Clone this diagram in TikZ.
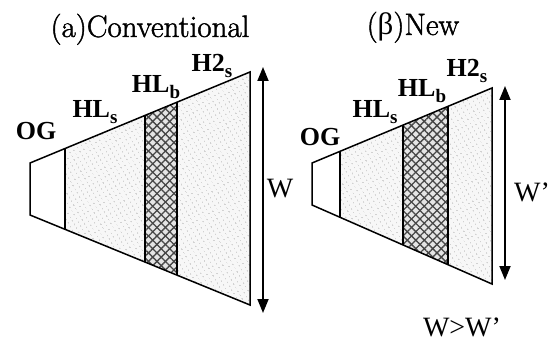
\documentclass[tikz,border=0pt]{standalone}
\usepackage{fontspec}
\usepackage{tikz}
\usetikzlibrary{arrows.meta, patterns.meta, positioning}
\newfontfamily\lblfont{Liberation Serif}
\newfontfamily\headfont{Latin Modern Roman}[FakeBold=1.4]
\newcommand{\lsub}[1]{\raisebox{-0.2em}{\fontsize{19}{20}\selectfont #1}}

\begin{document}
\begin{tikzpicture}[x=1pt, y=-1pt,
  heading/.style={font=\headfont\fontsize{31}{36}\selectfont, anchor=base, inner sep=0pt},
  layer/.style={font=\lblfont\bfseries\fontsize{26}{30}\selectfont, anchor=base, inner sep=0pt},
  widthlabel/.style={font=\lblfont\fontsize{28}{32}\selectfont, anchor=base, inner sep=0pt},
  outline/.style={line width=1.5pt, line join=miter},
  wall/.style={line width=2.3pt},
  stipple/.style={fill=gray!6, postaction={pattern color=gray!65,
                  pattern={Dots[distance=4pt, radius=0.65pt, angle=30]}}},
  mesh/.style={fill=gray!20,
               postaction={pattern color=gray!55!black, pattern={Lines[angle=45, distance=6pt, line width=1.3pt]}},
               postaction={pattern color=gray!55!black, pattern={Lines[angle=-45, distance=6pt, line width=1.3pt]}}},
  span/.style={line width=1.8pt, {Triangle[length=14pt, width=11pt]}-{Triangle[length=14pt, width=11pt]}},
]
\useasboundingbox (0,0) rectangle (552,342);

% ── (a) Conventional ──
\coordinate (aTL) at (30,163);   \coordinate (aBL) at (30,215);
\coordinate (aTR) at (250,72);   \coordinate (aBR) at (250,305);
\coordinate (a1t) at (65,148.5); \coordinate (a1b) at (65,229.3);
\coordinate (a2t) at (145,115.4);\coordinate (a2b) at (145,262);
\coordinate (a3t) at (177,102.2);\coordinate (a3b) at (177,275.1);

\fill[stipple] (a1t) -- (a2t) -- (a2b) -- (a1b) -- cycle;
\fill[mesh]    (a2t) -- (a3t) -- (a3b) -- (a2b) -- cycle;
\fill[stipple] (a3t) -- (aTR) -- (aBR) -- (a3b) -- cycle;
\draw[outline] (aTL) -- (aTR) -- (aBR) -- (aBL) -- cycle;
\draw[wall] (a1t) -- (a1b); \draw[wall] (a2t) -- (a2b); \draw[wall] (a3t) -- (a3b);

\node[heading] (atitle) at (150,37) {(a)Conventional};
\node[layer] (aog)  at (36,140) {OG};
\node[layer] (ahls) at (95,118) {HL\lsub{s}};
\node[layer] (ahlb) at (156,93) {HL\lsub{b}};
\node[layer] (ah2s) at (212,72) {H2\lsub{s}};

\coordinate (aWtop) at (263,67); \coordinate (aWbot) at (263,313);
\draw[span] (aWtop) -- (aWbot);
\node[widthlabel] (aW) at (280,198) {W};

% ── (β) New ──
\coordinate (bTL) at (312,163);   \coordinate (bBL) at (312,205);
\coordinate (bTR) at (492,88);    \coordinate (bBR) at (492,284);
\coordinate (b1t) at (340,151.3); \coordinate (b1b) at (340,217.3);
\coordinate (b2t) at (403,125.1); \coordinate (b2b) at (403,245);
\coordinate (b3t) at (448,106.3); \coordinate (b3b) at (448,264.7);

\fill[stipple] (b1t) -- (b2t) -- (b2b) -- (b1b) -- cycle;
\fill[mesh]    (b2t) -- (b3t) -- (b3b) -- (b2b) -- cycle;
\fill[stipple] (b3t) -- (bTR) -- (bBR) -- (b3b) -- cycle;
\draw[outline] (bTL) -- (bTR) -- (bBR) -- (bBL) -- cycle;
\draw[wall] (b1t) -- (b1b); \draw[wall] (b2t) -- (b2b); \draw[wall] (b3t) -- (b3b);

\node[heading] (btitle) at (413,35) {({\lblfont β})New};
\node[layer] (bog)  at (320,146) {OG};
\node[layer] (bhls) at (375,118) {HL\lsub{s}};
\node[layer] (bhlb) at (422,97)  {HL\lsub{b}};
\node[layer] (bh2s) at (467,77)  {H2\lsub{s}};

\coordinate (bWtop) at (505,86); \coordinate (bWbot) at (505,280);
\draw[span] (bWtop) -- (bWbot);
\node[widthlabel] (bW)  at (532,202) {W’};
\node[widthlabel] (cmp) at (462,336) {W>W’};

\end{tikzpicture}
\end{document}
